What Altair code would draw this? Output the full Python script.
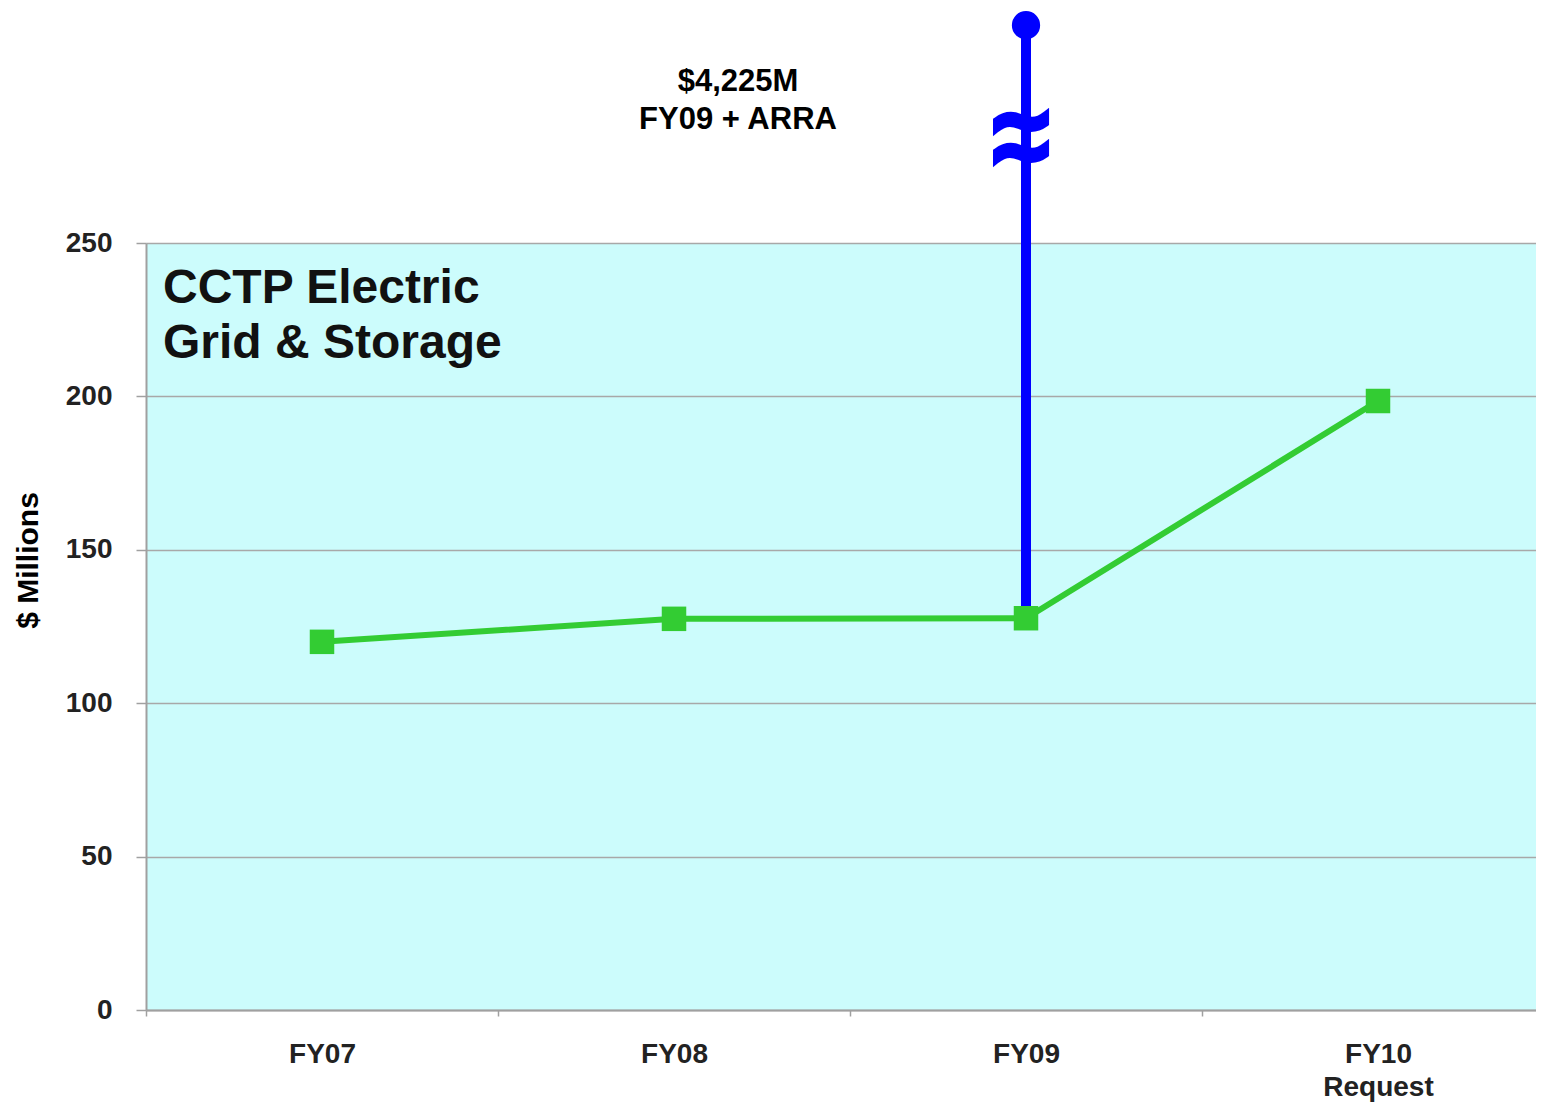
import altair as alt
import pandas as pd

# ---- data ----
years = ["FY07", "FY08", "FY09", "FY10 Request"]
funding = [120.0, 127.5, 127.7, 198.5]          # $ Millions, CCTP Electric Grid & Storage

arra_year = ["FY09"]
arra_base = [127.7]          # bottom of FY09 + ARRA stalk
arra_top_display = [321.0]   # top of broken stalk (off-scale, $4,225M)
arra_break_at = [284.5]      # axis-break glyph position
arra_label = ["$4,225M", "FY09 + ARRA"]
chart_title = ["CCTP Electric", "Grid & Storage"]
y_ticks = [0, 50, 100, 150, 200, 250]

df = pd.DataFrame({"year": years, "value": funding})
arra = pd.DataFrame({"year": arra_year, "base": arra_base,
                     "top": arra_top_display, "brk": arra_break_at})

GREEN = "#33CC33"
BLUE = "#0000FF"
FONT = "Liberation Sans"

x_enc = alt.X(
    "year:N", sort=years,
    scale=alt.Scale(domain=years, range=[0, 1408], paddingInner=0, paddingOuter=0),
    axis=alt.Axis(
        title=None, labelAngle=0, tickBand="extent", tickSize=6, tickColor="#A0A0A0",
        tickWidth=1.5, domainColor="#A0A0A0", domainWidth=2,
        labelFont=FONT, labelFontSize=28, labelFontWeight="bold", labelColor="#222222",
        labelPadding=24, labelBaseline="top", labelLineHeight=33,
        labelExpr="split(datum.label, ' ')", grid=False,
    ),
)
y_scale = alt.Scale(domain=[0, 250], nice=False, zero=True)
y_enc = alt.Y(
    "value:Q", scale=y_scale,
    axis=alt.Axis(
        title="$ Millions", values=y_ticks, grid=True, gridColor="#A8A8A8", gridWidth=1.5,
        tickSize=10, tickColor="#A0A0A0", tickWidth=1.5, domainColor="#A0A0A0", domainWidth=2,
        labelFont=FONT, labelFontSize=28, labelFontWeight="bold", labelColor="#222222",
        labelPadding=24, titleFont=FONT, titleFontSize=30, titleFontWeight="bold",
        titleColor="#000000", titleX=-118, titleY=317, titleAngle=270,
        titleAlign="center", titleBaseline="middle",
    ),
)

base = alt.Chart(df)
line = base.mark_line(color=GREEN, strokeWidth=6).encode(x=x_enc, y=y_enc)

stalk = alt.Chart(arra).mark_rule(color=BLUE, strokeWidth=10, clip=False).encode(
    x=alt.X("year:N", sort=years),
    y=alt.Y("base:Q", scale=y_scale),
    y2="top:Q",
)
knob = alt.Chart(arra).mark_point(filled=True, shape="circle", size=800, color=BLUE,
                                  opacity=1, clip=False).encode(
    x=alt.X("year:N", sort=years),
    y=alt.Y("top:Q", scale=y_scale),
)
brk = alt.Chart(arra).mark_text(text=["~", "~"], font="DejaVu Sans", fontWeight="bold",
                                fontSize=80, color=BLUE, stroke=BLUE, strokeWidth=6,
                                lineHeight=31, baseline="middle", align="center",
                                clip=False, dy=-14, dx=-5).encode(
    x=alt.X("year:N", sort=years),
    y=alt.Y("brk:Q", scale=y_scale),
)
squares = base.mark_point(filled=True, shape="square", size=600, color=GREEN,
                          opacity=1).encode(x=x_enc, y=y_enc)

arra_text = alt.Chart(arra).mark_text(
    text=arra_label, font=FONT, fontWeight="bold", fontSize=31, color="#000000",
    lineHeight=38, align="center", baseline="middle", clip=False,
).encode(x=alt.value(592), y=alt.value(-161))

title_text = alt.Chart(arra).mark_text(
    text=chart_title, font=FONT, fontWeight="bold", fontSize=48, color="#111111",
    lineHeight=55, align="left", baseline="alphabetic",
).encode(x=alt.value(17), y=alt.value(60))

chart = alt.layer(line, stalk, squares, knob, brk, arra_text, title_text).properties(
    width=1390, height=767,
    autosize=alt.AutoSizeParams(type="none"),
    padding={"left": 138, "top": 235, "right": 0, "bottom": 95},
).configure(background="white").configure_view(fill="#CCFCFC", stroke=None)

chart.save("out.html", embed_options={"renderer": "svg", "actions": False})
